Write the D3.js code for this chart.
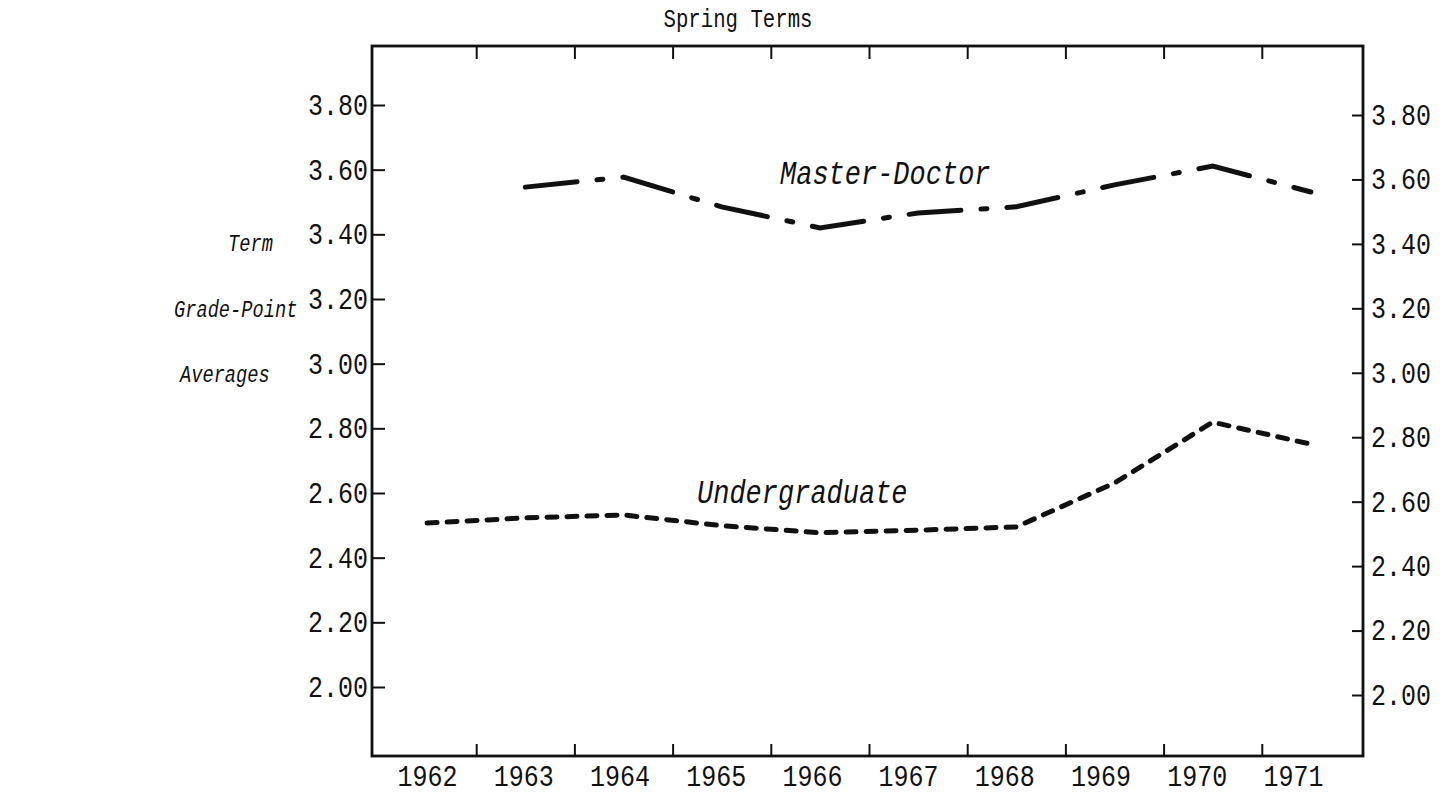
<!DOCTYPE html>
<html>
<head>
<meta charset="utf-8">
<script src="https://cdn.jsdelivr.net/npm/d3@7"></script>
<style>
  html, body { margin: 0; padding: 0; background: #fff; }
  svg { display: block; }
  /* typewriter letters are taller than the mono fonts we have */
  text {
    font-family: "Liberation Mono", "DejaVu Sans Mono", monospace;
    fill: #111;
    transform-box: fill-box;
    transform-origin: center;
    transform: scaleY(1.2);
  }
  text.side { transform: scaleY(1.3); }
</style>
</head>
<body>
<div id="chart"></div>
<script>
// values
const years = [1962, 1963, 1964, 1965, 1966, 1967, 1968, 1969, 1970, 1971];
const masterDoctor = [null, 3.546, 3.577, 3.485, 3.42, 3.466, 3.485, 3.553, 3.611, 3.531];
const undergraduate = [2.507, 2.523, 2.532, 2.499, 2.477, 2.485, 2.495, 2.631, 2.819, 2.751];
const yTicks = [2.00, 2.20, 2.40, 2.60, 2.80, 3.00, 3.20, 3.40, 3.60, 3.80];
const yAxisTitle = ["Term", "Grade-Point", "Averages"];

const W = 1446, H = 794;
const plotL = 372, plotR = 1363, plotT = 46, plotB = 756;

const svg = d3.select("#chart").append("svg")
    .attr("width", W)
    .attr("height", H);

// x: each year sits in the middle of its own slot, ticks mark the slot edges
const x = d3.scaleLinear().domain([1961.5, 1971.5]).range([378, 1360]);
// typed year labels drift a little left of the slots
const xLab = d3.scaleLinear().domain([1962, 1971]).range([427, 1293]);
const y = d3.scaleLinear().domain([2.0, 3.8]).range([687, 105]);
// right hand scale was typed a few px lower
const yR = d3.scaleLinear().domain([2.0, 3.8]).range([695, 115]);

const edges = d3.range(1962.5, 1971, 1);

// frame
svg.append("rect")
    .attr("x", plotL).attr("y", plotT)
    .attr("width", plotR - plotL).attr("height", plotB - plotT)
    .attr("fill", "none").attr("stroke", "#111").attr("stroke-width", 2.8);

// bottom ticks (inward)
svg.append("g")
    .attr("transform", `translate(0,${plotB})`)
    .call(d3.axisBottom(x).tickValues(edges).tickSize(-12).tickFormat(""))
    .call(g => g.select(".domain").remove())
    .call(g => g.selectAll("line").attr("stroke", "#111").attr("stroke-width", 2));

// top ticks (inward)
svg.append("g")
    .attr("transform", `translate(0,${plotT})`)
    .call(d3.axisTop(x).tickValues(edges).tickSize(-13).tickFormat(""))
    .call(g => g.select(".domain").remove())
    .call(g => g.selectAll("line").attr("stroke", "#111").attr("stroke-width", 2));

// year labels
svg.append("g")
    .attr("transform", `translate(0,${plotB})`)
    .call(d3.axisBottom(xLab).tickValues(years).tickSize(0).tickFormat(d3.format("d")))
    .call(g => g.select(".domain").remove())
    .call(g => g.selectAll("text")
        .attr("y", 29).attr("dy", null)
        .style("font-family", "'Liberation Mono', monospace")
        .style("font-size", "25px").attr("fill", "#111"));

// left y axis
svg.append("g")
    .attr("transform", `translate(${plotL},0)`)
    .call(d3.axisLeft(y).tickValues(yTicks).tickSize(-13).tickPadding(4).tickFormat(d3.format(".2f")))
    .call(g => g.select(".domain").remove())
    .call(g => g.selectAll("line").attr("stroke", "#111").attr("stroke-width", 2))
    .call(g => g.selectAll("text")
        .style("font-family", "'Liberation Mono', monospace")
        .style("font-size", "25px").attr("fill", "#111"));

// right y axis
svg.append("g")
    .attr("transform", `translate(${plotR},0)`)
    .call(d3.axisRight(yR).tickValues(yTicks).tickSize(-11).tickPadding(8).tickFormat(d3.format(".2f")))
    .call(g => g.select(".domain").remove())
    .call(g => g.selectAll("line").attr("stroke", "#111").attr("stroke-width", 2))
    .call(g => g.selectAll("text")
        .style("font-family", "'Liberation Mono', monospace")
        .style("font-size", "25px").attr("fill", "#111"));

// title
svg.append("text")
    .attr("x", 738).attr("y", 26)
    .attr("text-anchor", "middle")
    .style("font-size", "20.7px")
    .text("Spring Terms");

// y axis title, three typed lines
const titleX = [228, 174, 180];
const titleY = [250, 316, 381];
svg.append("g").selectAll("text")
    .data(yAxisTitle)
    .join("text")
    .attr("class", "side")
    .attr("x", (d, i) => titleX[i])
    .attr("y", (d, i) => titleY[i])
    .style("font-size", "18.7px")
    .style("font-style", "italic")
    .text(d => d);

const line = d3.line()
    .defined(d => d[1] != null)
    .x(d => x(d[0]))
    .y(d => y(d[1]));

svg.append("path")
    .datum(years.map((yr, i) => [yr, masterDoctor[i]]))
    .attr("d", line)
    .attr("fill", "none")
    .attr("stroke", "#111")
    .attr("stroke-width", 5)
    .attr("stroke-linecap", "round")
    .attr("stroke-dasharray", "52 20 6 20");

svg.append("path")
    .datum(years.map((yr, i) => [yr, undergraduate[i]]))
    .attr("d", line)
    .attr("fill", "none")
    .attr("stroke", "#111")
    .attr("stroke-width", 5)
    .attr("stroke-linecap", "round")
    .attr("stroke-dasharray", "10 10");

// series labels
svg.append("text")
    .attr("x", 780).attr("y", 183)
    .style("font-size", "27px")
    .style("font-style", "italic")
    .text("Master-Doctor");

svg.append("text")
    .attr("x", 697).attr("y", 502)
    .style("font-size", "27px")
    .style("font-style", "italic")
    .text("Undergraduate");
</script>
</body>
</html>
